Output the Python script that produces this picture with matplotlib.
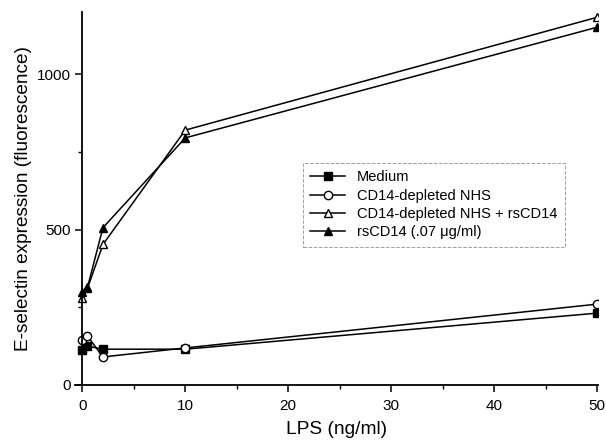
import numpy as np
import matplotlib.pyplot as plt

# Dados
lps = [0, 0.5, 2, 10, 50]
medium = [112, 125, 115, 115, 231]
depleted = [144, 157, 90, 119, 260]
depleted_rs = [279, 311, 452, 820, 1183]
rscd14 = [298, 314, 506, 795, 1151]

labels = ['Medium', 'CD14-depleted NHS', 'CD14-depleted NHS + rsCD14',
          'rsCD14 (.07 \u03bcg/ml)']

plt.rcParams['font.family'] = ['Liberation Sans', 'DejaVu Sans']

fig = plt.figure(figsize=(6.06, 4.45), dpi=100)
ax = fig.add_axes([0.124, 0.135, 0.863, 0.838])

kw = dict(color='black', lw=1.1, ms=6, mew=1.0)
ax.plot(lps, medium, marker='s', mfc='black', label=labels[0], **kw)
ax.plot(lps, depleted, marker='o', mfc='white', label=labels[1], **kw)
ax.plot(lps, depleted_rs, marker='^', mfc='white', label=labels[2], **kw)
ax.plot(lps, rscd14, marker='^', mfc='black', label=labels[3], **kw)

ax.set_xlim(-0.7, 50.1)
ax.set_ylim(0, 1200)
ax.spines['top'].set_visible(False)
ax.spines['right'].set_visible(False)
ax.spines['left'].set_position(('data', 0))
ax.spines['left'].set_bounds(0, 1200)
ax.spines['left'].set_linewidth(1.3)
ax.spines['bottom'].set_linewidth(1.3)

ax.set_xticks([0, 10, 20, 30, 40, 50])
ax.set_xticks([5, 15, 25, 35, 45], minor=True)
ax.set_yticks([0, 500, 1000])
ax.set_yticks([250, 750], minor=True)
ax.tick_params(direction='out', length=5, width=1.1, labelsize=11)
ax.tick_params(axis='x', pad=5)
ax.tick_params(which='minor', direction='out', length=3, width=1.0)

ax.set_xlabel('LPS (ng/ml)', fontsize=13.8, labelpad=6)
ax.set_ylabel('E-selectin expression (fluorescence)', fontsize=13.7, labelpad=3)

leg = ax.legend(loc='upper left', bbox_to_anchor=(0.436, 0.595), fontsize=10.5,
                frameon=True, fancybox=False, handlelength=2.4,
                borderpad=0.5, labelspacing=0.3, borderaxespad=0)
leg.get_frame().set_edgecolor('#888888')
leg.get_frame().set_linestyle('--')
leg.get_frame().set_linewidth(0.7)

plt.savefig('out.png', dpi=100)
